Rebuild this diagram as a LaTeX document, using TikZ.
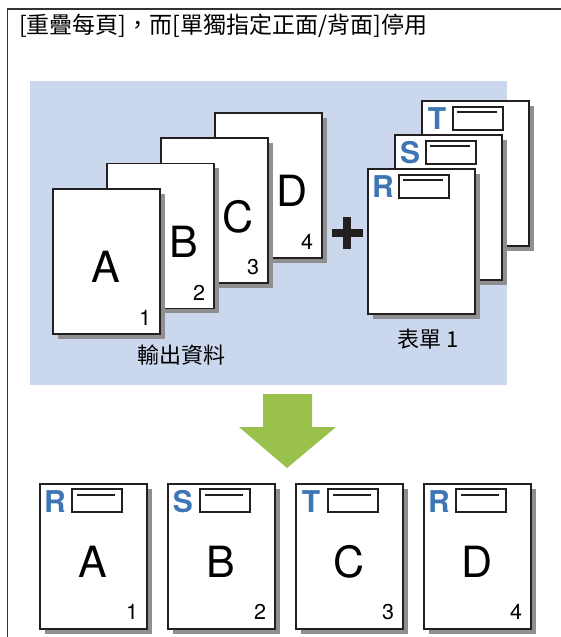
\documentclass[tikz,border=0pt]{standalone}
\usepackage{fontspec}
\setmainfont{TeX Gyre Heros}
\newfontfamily\cjk{Noto Sans CJK TC}
\usetikzlibrary{shadows}
\definecolor{panelblue}{HTML}{CBD7EC}
\definecolor{arrowgreen}{HTML}{99C14B}
\definecolor{markblue}{HTML}{3D75B5}
\definecolor{shadowgray}{HTML}{8F8F92}
\definecolor{inkblack}{HTML}{231F20}

\begin{document}
\begin{tikzpicture}[x=1pt,y=-1pt,
  sheet/.style={draw=inkblack, line width=1.5pt, fill=white, anchor=north west,
    minimum width=107pt, minimum height=145pt, inner sep=0pt,
    drop shadow={shadow xshift=5pt, shadow yshift=-5pt, fill=shadowgray, opacity=1}},
  bigletter/.style={font=\fontsize{43}{43}\selectfont, inner sep=0pt},
  pagenum/.style={font=\fontsize{21.5}{21.5}\selectfont, inner sep=0pt},
  formmark/.style={font=\fontsize{30}{30}\selectfont\bfseries, text=markblue, inner sep=0pt},
  formfield/.style={draw=inkblack, line width=2pt, anchor=north west,
    minimum width=50pt, minimum height=23pt, inner sep=0pt},
  caption/.style={font=\cjk\fontsize{22}{22}\selectfont, inner sep=0pt}]

\useasboundingbox (0,0) rectangle (561,637);
\draw[line width=1.3pt, black!80] (561,9) -- (7.5,9) -- (7.5,637);
\node[caption, font=\cjk\fontsize{23}{23}\selectfont, anchor=west] (title) at (19,25.5)
  {[重疊每頁]，而[單獨指定正面/背面]停用};

% ===== Top panel: output data + form =====
\fill[panelblue] (30,81) rectangle (507,385);

\foreach \i/\lt/\n/\dx in {3/D/4/78, 2/C/3/78, 1/B/2/78, 0/A/1/54} {
  \node[sheet] (in-\lt) at (52+54*\i, 188-25.3*\i) {};
  \node[bigletter] (in-\lt-l) at (52+54*\i+\dx, 267-25.3*\i) {\lt};
  \node[pagenum] (in-\lt-n) at (145+54*\i, 318-25.3*\i) {\n};
}
\node[caption] (in-label) at (181,355) {輸出資料};

\draw[line width=8pt, inkblack] (332,233) -- (363,233) (347,217) -- (347,249);

\foreach \i/\lt in {2/T, 1/S, 0/R} {
  \node[sheet] (form-\lt) at (367+27*\i, 168-34*\i) {};
  \node[formmark] (form-\lt-l) at (383+27*\i, 187-34*\i) {\lt};
  \node[formfield] (form-\lt-f) at (398+27*\i, 174-34*\i) {};
  \draw[line width=2pt, inkblack] (403+27*\i, 180-34*\i) -- (443+27*\i, 180-34*\i);
}
\node[caption] (form-label) at (428,339) {表單 1};

% ===== Arrow =====
\fill[arrowgreen] (263,394) -- (312,394) -- (312,427) -- (336,427) -- (287,468)
  -- (239,427) -- (263,427) -- cycle;

% ===== Bottom row: printed result =====
\foreach \i/\m/\lt/\n in {0/R/A/1, 1/S/B/2, 2/T/C/3, 3/R/D/4} {
  \node[sheet] (out-\n) at (39+128*\i, 483) {};
  \node[formmark] (out-\n-m) at (55+128*\i, 502) {\m};
  \node[formfield] (out-\n-f) at (71+128*\i, 488) {};
  \draw[line width=2pt, inkblack] (77+128*\i, 494.5) -- (115+128*\i, 494.5);
  \node[bigletter] (out-\n-l) at (93+128*\i, 562) {\lt};
  \node[pagenum] (out-\n-n) at (132+128*\i, 612) {\n};
}

\end{tikzpicture}
\end{document}
